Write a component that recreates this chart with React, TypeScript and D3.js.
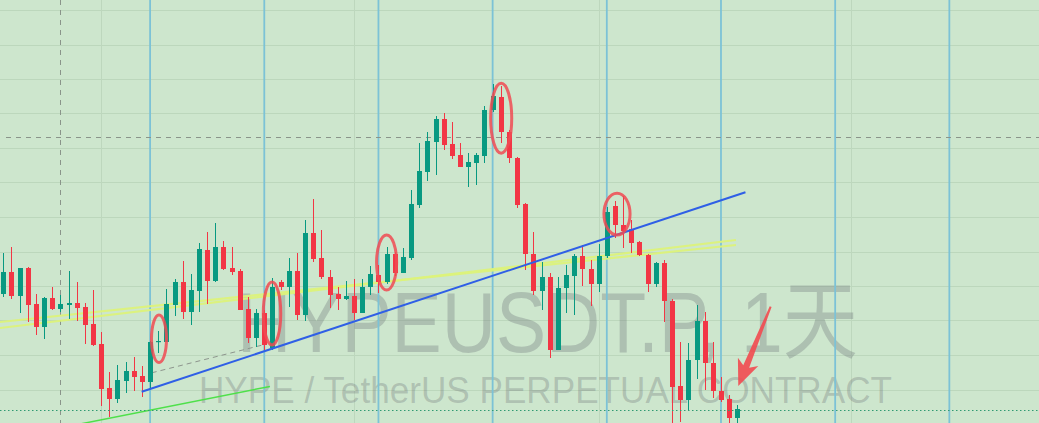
import React from "react";
import * as d3 from "d3";

const W = 1039;
const H = 423;

// Daily candles, index 0..90 (price units)
const opens = [36.5, 37.6, 36.4, 37.8, 36.0, 34.85, 36.3, 35.75, 35.95, 36.05, 35.85, 35.0, 34.0, 31.8, 31.25, 32.15, 32.65, 32.4, 32.1, 34.1,
  34.1, 35.95, 37.1, 35.6, 36.65, 38.7, 37.15, 38.85, 37.8, 37.65, 35.75, 34.3, 35.55, 33.8, 37.1, 36.85, 37.65, 35.45, 39.55, 38.3,
  37.35, 36.5, 36.25, 36.4, 35.55, 36.85, 37.45, 37.1, 38.5, 37.55, 38.3, 40.95, 42.6, 44.1, 45.25, 44.0, 43.45, 42.85, 43.05, 43.4,
  45.7, 46.35, 44.6, 43.3, 41.0, 38.5, 36.65, 37.35, 33.7, 36.8, 37.4, 38.4, 37.75, 37.0, 38.4, 40.9, 39.95, 39.75, 39.1, 38.45,
  37.0, 38.05, 36.15, 31.9, 31.2, 33.2, 35.15, 33.05, 31.65, 31.25, 30.3];
const highs = [38.55, 38.85, 37.8, 37.85, 36.5, 36.35, 36.85, 36.45, 37.65, 37.1, 36.05, 36.7, 34.6, 32.6, 32.95, 33.1, 33.35, 32.9, 34.15, 34.65,
  36.75, 37.25, 38.15, 37.5, 39.05, 39.6, 40.05, 39.15, 38.85, 37.75, 36.35, 35.75, 35.7, 37.3, 37.2, 38.3, 38.55, 40.2, 41.25, 39.7,
  37.7, 36.85, 37.15, 37.25, 37.25, 37.9, 37.95, 38.85, 38.6, 38.8, 41.7, 44.05, 44.6, 45.4, 45.55, 45.1, 44.05, 43.55, 43.55, 45.9,
  47.0, 46.9, 44.7, 43.35, 41.05, 39.6, 38.1, 37.55, 37.35, 37.95, 38.5, 38.95, 38.2, 39.0, 40.85, 41.15, 41.4, 40.2, 39.15, 38.5,
  38.1, 38.2, 36.25, 34.1, 34.05, 35.95, 35.6, 34.1, 32.35, 31.45, 30.95];
const lows = [36.35, 36.25, 35.55, 35.1, 34.45, 34.25, 35.7, 35.6, 35.25, 35.15, 34.0, 33.9, 30.9, 30.35, 31.05, 31.55, 31.65, 31.35, 31.8, 33.55,
  34.1, 35.4, 35.25, 34.95, 35.6, 36.0, 37.1, 37.7, 37.45, 35.7, 34.05, 33.85, 33.7, 33.7, 36.7, 35.85, 35.2, 35.15, 38.1, 37.25,
  35.8, 35.7, 36.2, 35.2, 35.55, 36.45, 36.55, 37.0, 37.4, 37.55, 38.2, 40.8, 42.15, 42.45, 43.7, 43.25, 42.85, 41.85, 41.95, 43.05,
  45.6, 44.05, 43.05, 40.8, 37.7, 36.45, 35.7, 33.3, 33.7, 35.55, 35.45, 36.9, 35.9, 36.6, 38.3, 39.3, 38.8, 38.55, 38.4, 36.6,
  36.85, 35.1, 29.7, 30.1, 30.7, 32.25, 31.7, 31.3, 31.1, 29.95, 29.95];
const closes = [37.6, 36.4, 37.8, 35.95, 34.85, 36.3, 35.75, 36.0, 36.05, 35.8, 34.95, 33.95, 31.75, 31.25, 32.2, 32.65, 32.35, 32.1, 34.1, 34.15,
  36.0, 37.1, 35.6, 36.7, 38.75, 37.15, 38.85, 37.75, 37.6, 35.7, 34.3, 35.55, 33.95, 36.85, 36.85, 37.65, 35.45, 39.55, 38.25, 37.35,
  36.45, 36.25, 36.4, 35.55, 36.85, 37.5, 37.1, 38.5, 37.55, 38.35, 41.0, 42.65, 44.15, 45.25, 43.95, 43.4, 42.85, 43.1, 43.45, 45.7,
  46.4, 44.6, 43.3, 40.95, 38.5, 36.65, 37.35, 33.7, 36.8, 37.45, 38.4, 37.75, 37.0, 38.4, 40.6, 39.95, 39.65, 39.05, 38.45, 37.0,
  38.05, 36.15, 31.85, 31.2, 33.2, 35.15, 33.05, 31.65, 31.2, 30.3, 30.75];

const weekMarks = [18, 32, 46, 60, 74, 88, 102, 116];
const monthMarks = [12, 43, 73, 104];
const priceGridStart = 50.7;
const priceGridStep = 1.725;
const crosshairIdx = 7;
const crosshairPrice = 44.35;
const lastPriceLevel = 30.7;

// trend lines: [idx, price] pairs
const blueTrend = [[16.97, 31.615], [91.0, 41.585]];
const yellowTrendA = [[-0.405, 35.1], [89.83, 38.95]];
const yellowTrendB = [[-0.405, 34.8], [89.83, 39.2]];
const greenTrend = [[8.8, 29.95], [32.7, 31.88]];
const greyDashTrend = [[18.2, 32.56], [31.8, 33.95]];

// highlight ellipses: idx, price top, price bottom, half width (candles)
const marks = [
  [19.09, 35.45, 33.07, 0.92],
  [32.95, 37.1, 33.95, 1.07],
  [47.0, 39.45, 36.7, 1.23],
  [61.05, 47.04, 43.54, 1.29],
  [75.25, 41.54, 39.45, 1.6],
];
const arrowTail = [94.09, 35.87];
const arrowTip = [90.12, 31.9];

const titleMain = "HYPEUSDT.P, 1天";
const titleSub = "HYPE / TetherUS PERPETUAL CONTRACT";

const UP = "#089981";
const DOWN = "#f23645";

export default function App() {
  const x = d3.scaleLinear().domain([0, 90]).range([3.3, 737.3]);
  const y = d3.scaleLinear().domain([30, 51.2]).range([424, 0]);
  const step = x(1) - x(0);
  const gridPrices = d3.range(0, 12).map((k) => priceGridStart - priceGridStep * k);
  const line = d3.line<number[]>().x((d) => x(d[0])).y((d) => y(d[1]));

  const ax = x(arrowTail[0]), ay = y(arrowTail[1]);
  const bx = x(arrowTip[0]), by = y(arrowTip[1]);
  const L = Math.hypot(bx - ax, by - ay);
  const ang = (Math.atan2(by - ay, bx - ax) * 180) / Math.PI;
  const arrowPts = [
    [0, -1], [L - 21, -3.2], [L - 26, -11], [L, 0], [L - 26, 11], [L - 21, 3.2], [0, 1],
  ].map((p) => p.join(",")).join(" ");

  return (
    <svg width={W} height={H} style={{ position: "absolute", left: 0, top: 0, display: "block" }}>
      <rect x={0} y={0} width={W} height={H} fill="#cde6cd" />
      {gridPrices.map((p, i) => (
        <line key={"g" + i} x1={0} x2={W} y1={Math.round(y(p)) + 0.5} y2={Math.round(y(p)) + 0.5} stroke="#bcd7bc" strokeWidth={1} />
      ))}
      {monthMarks.map((m, i) => (
        <line key={"m" + i} x1={Math.round(x(m)) + 0.5} x2={Math.round(x(m)) + 0.5} y1={0} y2={H} stroke="#bdd7bd" strokeWidth={1} />
      ))}
      <text x={547.5} y={352} textAnchor="middle" fontFamily="'Liberation Sans', Arial, 'Noto Sans CJK SC', sans-serif" fontSize={86}
        textLength={621} lengthAdjust="spacingAndGlyphs" fill="rgba(110,115,120,0.33)">{titleMain}</text>
      <text x={545.5} y={403} textAnchor="middle" fontFamily="'Liberation Sans', Arial, sans-serif" fontSize={37}
        textLength={693} lengthAdjust="spacingAndGlyphs" fill="rgba(110,115,120,0.33)">{titleSub}</text>
      {weekMarks.map((m, i) => (
        <line key={"w" + i} x1={x(m)} x2={x(m)} y1={0} y2={H} stroke="#7cc2d6" strokeWidth={1.8} />
      ))}
      <line x1={Math.round(x(crosshairIdx)) + 0.5} x2={Math.round(x(crosshairIdx)) + 0.5} y1={0} y2={H} stroke="#8a948a" strokeDasharray="5,5" strokeWidth={1} />
      <line x1={6} x2={W} y1={Math.round(y(crosshairPrice)) + 0.5} y2={Math.round(y(crosshairPrice)) + 0.5} stroke="#8a948a" strokeDasharray="5,5" strokeWidth={1} />
      <path d={line(yellowTrendA as number[][]) || ""} stroke="#dcf27a" strokeWidth={2.2} fill="none" opacity={0.95} />
      <path d={line(yellowTrendB as number[][]) || ""} stroke="#dcf27a" strokeWidth={2.2} fill="none" opacity={0.95} />
      <path d={line(greyDashTrend as number[][]) || ""} stroke="#8d958d" strokeWidth={1} strokeDasharray="5,4" fill="none" />
      {opens.map((o, i) => {
        const c = closes[i];
        const up = c >= o;
        const col = up ? UP : DOWN;
        const cx = Math.round(x(i));
        const top = y(Math.max(o, c));
        const bot = y(Math.min(o, c));
        return (
          <g key={"c" + i}>
            <line x1={cx + 0.5} x2={cx + 0.5} y1={y(highs[i])} y2={y(lows[i])} stroke={col} strokeWidth={1} />
            <rect x={cx - 2} y={top} width={5} height={Math.max(1.2, bot - top)} fill={col} />
          </g>
        );
      })}
      <path d={line(blueTrend as number[][]) || ""} stroke="#2f5fe6" strokeWidth={2} fill="none" />
      <path d={line(greenTrend as number[][]) || ""} stroke="#4ee04a" strokeWidth={1.5} fill="none" />
      <line x1={0} x2={W} y1={Math.round(y(lastPriceLevel)) + 0.5} y2={Math.round(y(lastPriceLevel)) + 0.5} stroke="#2f9a72" strokeWidth={1} strokeDasharray="1.5,2.5" />
      {marks.map((m, i) => {
        const t = y(m[1]), b = y(m[2]);
        return (
          <ellipse key={"e" + i} cx={x(m[0])} cy={(t + b) / 2} rx={m[3] * step} ry={(b - t) / 2} fill="none" stroke="#f04a52" strokeWidth={3} opacity={0.85} />
        );
      })}
      <polygon points={arrowPts} transform={`translate(${ax},${ay}) rotate(${ang})`} fill="#f24a50" opacity={0.9} />
    </svg>
  );
}
